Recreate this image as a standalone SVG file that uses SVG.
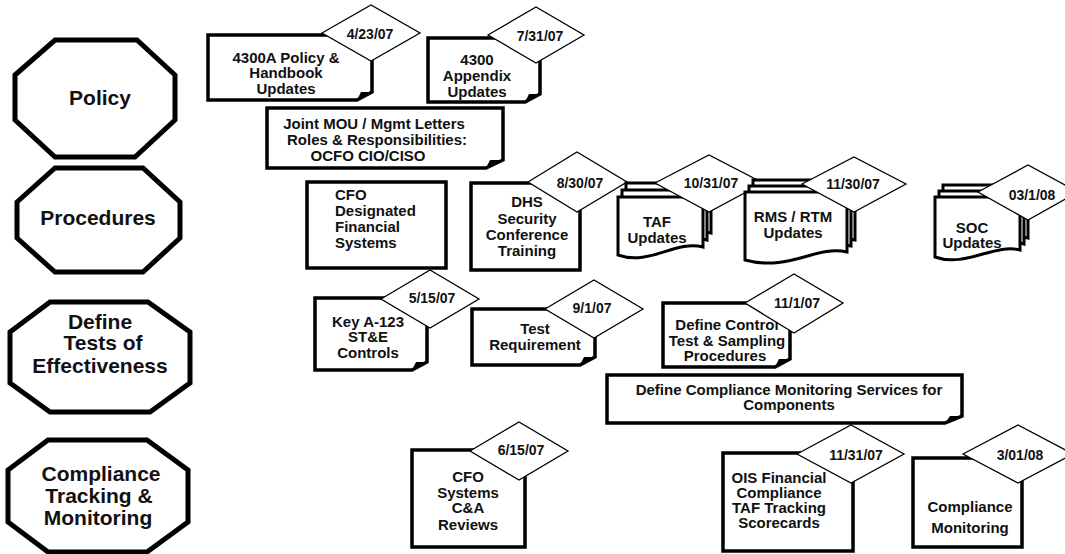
<svg xmlns="http://www.w3.org/2000/svg" width="1065" height="554" viewBox="0 0 1065 554">
<style>
.oct{fill:#fff;stroke:#000;stroke-width:5;stroke-linejoin:miter}
.box{fill:#fff;stroke:#000;stroke-width:3.5;stroke-linejoin:miter}
.doc{fill:#fff;stroke:#000;stroke-width:3;stroke-linejoin:miter}
.dia{fill:#fff;stroke:#000;stroke-width:1.3}
.curl{fill:#000}
.t{font-family:"Liberation Sans",Arial,Helvetica,sans-serif;font-weight:bold;font-size:15px;text-anchor:middle;fill:#111}
.l{text-anchor:start}
.d{font-size:14px}
.o{font-size:21px}
</style>
<rect width="1065" height="554" fill="#fff"/>

<g id="lane-policy">
<path class="oct" d="M55,40 L137,40 L175,75 L175,120 L135,157 L55,157 L15,120 L15,75 Z"/>
<text class="t o" x="100" y="105">Policy</text>
</g>
<g id="lane-procedures">
<path class="oct" d="M55,168 L143,168 L180,202 L180,238 L143,272 L55,272 L17,238 L17,202 Z"/>
<text class="t o" x="98" y="225">Procedures</text>
</g>
<g id="lane-tests">
<path class="oct" d="M50,302 L148,302 L190,332 L190,383 L150,412 L50,412 L10,383 L10,332 Z"/>
<text class="t o" x="100" y="329">Define</text>
<text class="t o" x="103" y="350">Tests of</text>
<text class="t o" x="100" y="373">Effectiveness</text>
</g>
<g id="lane-compliance">
<path class="oct" d="M48,440 L147,440 L188,470 L188,522 L147,552 L48,552 L8,522 L8,470 Z"/>
<text class="t o" x="101" y="481">Compliance</text>
<text class="t o" x="99" y="503">Tracking &amp;</text>
<text class="t o" x="98" y="525">Monitoring</text>
</g>

<g id="connectors"></g>

<g id="n-4300a">
<path class="box" d="M208,35 H372 V92 L357,100 H208 Z"/>
<path class="curl" d="M357,100 L361,92 L372,92 Z"/>
<text class="t" x="286" y="63">4300A Policy &amp;</text>
<text class="t" x="286" y="78">Handbook</text>
<text class="t" x="286" y="94">Updates</text>
<polygon class="dia" points="322,33 371,5 420,33 371,61"/>
<text class="t d" x="370" y="39">4/23/07</text>
</g>

<g id="n-4300-appendix">
<path class="box" d="M428,38 H540 V94 L525,102 H428 Z"/>
<path class="curl" d="M525,102 L529,94 L540,94 Z"/>
<text class="t" x="477" y="65">4300</text>
<text class="t" x="477" y="81">Appendix</text>
<text class="t" x="477" y="97">Updates</text>
<polygon class="dia" points="488,35 536,7 584,35 536,63"/>
<text class="t d" x="540" y="41">7/31/07</text>
</g>

<g id="n-joint-mou">
<path class="box" d="M267,108 H503 V160 L486,168 H267 Z"/>
<path class="curl" d="M486,168 L490,160 L503,160 Z"/>
<text class="t" x="374" y="129">Joint MOU / Mgmt Letters</text>
<text class="t" x="377" y="145">Roles &amp; Responsibilities:</text>
<text class="t" x="368" y="161">OCFO CIO/CISO</text>
</g>

<g id="n-cfo-designated">
<rect class="box" x="307" y="182" width="139" height="86"/>
<text class="t l" x="335" y="200">CFO</text>
<text class="t l" x="335" y="216">Designated</text>
<text class="t l" x="335" y="232">Financial</text>
<text class="t l" x="335" y="248">Systems</text>
</g>

<g id="n-dhs">
<rect class="box" x="471" y="183" width="109" height="87"/>
<text class="t" x="527" y="207">DHS</text>
<text class="t" x="527" y="224">Security</text>
<text class="t" x="527" y="240">Conference</text>
<text class="t" x="527" y="256">Training</text>
<polygon class="dia" points="528,182 577,152 627,182 577,212"/>
<text class="t d" x="580" y="188">8/30/07</text>
</g>

<g id="n-taf">
<path class="doc" d="M626,183 L711,183 L711,233 C683,226 658,252 626,241 Z"/>
<path class="doc" d="M622,190 L707,190 L707,240 C679,233 654,259 622,248 Z"/>
<path class="doc" d="M618,197 L703,197 L703,247 C675,240 650,266 618,255 Z"/>
<text class="t" x="657" y="227">TAF</text>
<text class="t" x="657" y="243">Updates</text>
<polygon class="dia" points="655,183 709,155 763,183 709,212"/>
<text class="t d" x="711" y="188">10/31/07</text>
</g>

<g id="n-rms">
<path class="doc" d="M753,180 L855,180 L855,240 C823,233 798,260 753,248 Z"/>
<path class="doc" d="M749,186 L851,186 L851,246 C819,239 794,266 749,254 Z"/>
<path class="doc" d="M745,192 L847,192 L847,252 C815,245 790,272 745,260 Z"/>
<text class="t" x="793" y="222">RMS / RTM</text>
<text class="t" x="793" y="238">Updates</text>
<polygon class="dia" points="802,184 854,157 906,184 854,212"/>
<text class="t d" x="853" y="189">11/30/07</text>
</g>

<g id="n-soc">
<path class="doc" d="M943,185 L1028,185 L1028,238 C1003,231 973,256 943,245 Z"/>
<path class="doc" d="M939,191 L1024,191 L1024,244 C999,237 969,262 939,251 Z"/>
<path class="doc" d="M935,197 L1020,197 L1020,250 C995,243 965,268 935,257 Z"/>
<text class="t" x="972" y="233">SOC</text>
<text class="t" x="972" y="248">Updates</text>
<polygon class="dia" points="978,192 1028,165 1078,192 1028,220"/>
<text class="t d" x="1032" y="200">03/1/08</text>
</g>

<g id="n-key-a123">
<path class="box" d="M315,298 H427 V362 L412,370 H315 Z"/>
<path class="curl" d="M412,370 L416,362 L427,362 Z"/>
<text class="t" x="368" y="327">Key A-123</text>
<text class="t" x="368" y="342">ST&amp;E</text>
<text class="t" x="368" y="358">Controls</text>
<polygon class="dia" points="381,299 430,270 479,299 430,328"/>
<text class="t d" x="432" y="303">5/15/07</text>
</g>

<g id="n-test-req">
<path class="box" d="M472,309 H595 V357 L580,365 H472 Z"/>
<path class="curl" d="M580,365 L584,357 L595,357 Z"/>
<text class="t" x="535" y="334">Test</text>
<text class="t" x="535" y="350">Requirement</text>
<polygon class="dia" points="545,309 594,280 643,309 594,338"/>
<text class="t d" x="592" y="313">9/1/07</text>
</g>

<g id="n-define-control">
<path class="box" d="M663,303 H790 V359 L775,367 H663 Z"/>
<path class="curl" d="M775,367 L779,359 L790,359 Z"/>
<text class="t" x="727" y="330">Define Control</text>
<text class="t" x="727" y="346">Test &amp; Sampling</text>
<text class="t" x="725" y="361">Procedures</text>
<polygon class="dia" points="745,303 794,274 843,303 794,333"/>
<text class="t d" x="797" y="308">11/1/07</text>
</g>

<g id="n-define-compliance">
<path class="box" d="M607,375 H962 V416 L945,423 H607 Z"/>
<path class="curl" d="M945,423 L950,416 L962,416 Z"/>
<text class="t" x="789" y="395">Define Compliance Monitoring Services for</text>
<text class="t" x="789" y="410">Components</text>
</g>

<g id="n-cfo-systems">
<rect class="box" x="412" y="450" width="113" height="97"/>
<text class="t" x="468" y="482">CFO</text>
<text class="t" x="468" y="498">Systems</text>
<text class="t" x="468" y="513">C&amp;A</text>
<text class="t" x="468" y="530">Reviews</text>
<polygon class="dia" points="470,451 519,422 568,451 519,480"/>
<text class="t d" x="521" y="455">6/15/07</text>
</g>

<g id="n-ois">
<rect class="box" x="723" y="453" width="130" height="98"/>
<text class="t" x="779" y="483">OIS Financial</text>
<text class="t" x="779" y="498">Compliance</text>
<text class="t" x="779" y="513">TAF Tracking</text>
<text class="t" x="779" y="528">Scorecards</text>
<polygon class="dia" points="797,454 851,425 904,454 851,483"/>
<text class="t d" x="856" y="460">11/31/07</text>
</g>

<g id="n-compliance-monitoring">
<rect class="box" x="913" y="458" width="109" height="89"/>
<text class="t" x="970" y="512">Compliance</text>
<text class="t" x="970" y="533">Monitoring</text>
<polygon class="dia" points="963,454 1018,425 1073,454 1018,483"/>
<text class="t d" x="1020" y="460">3/01/08</text>
</g>
</svg>
